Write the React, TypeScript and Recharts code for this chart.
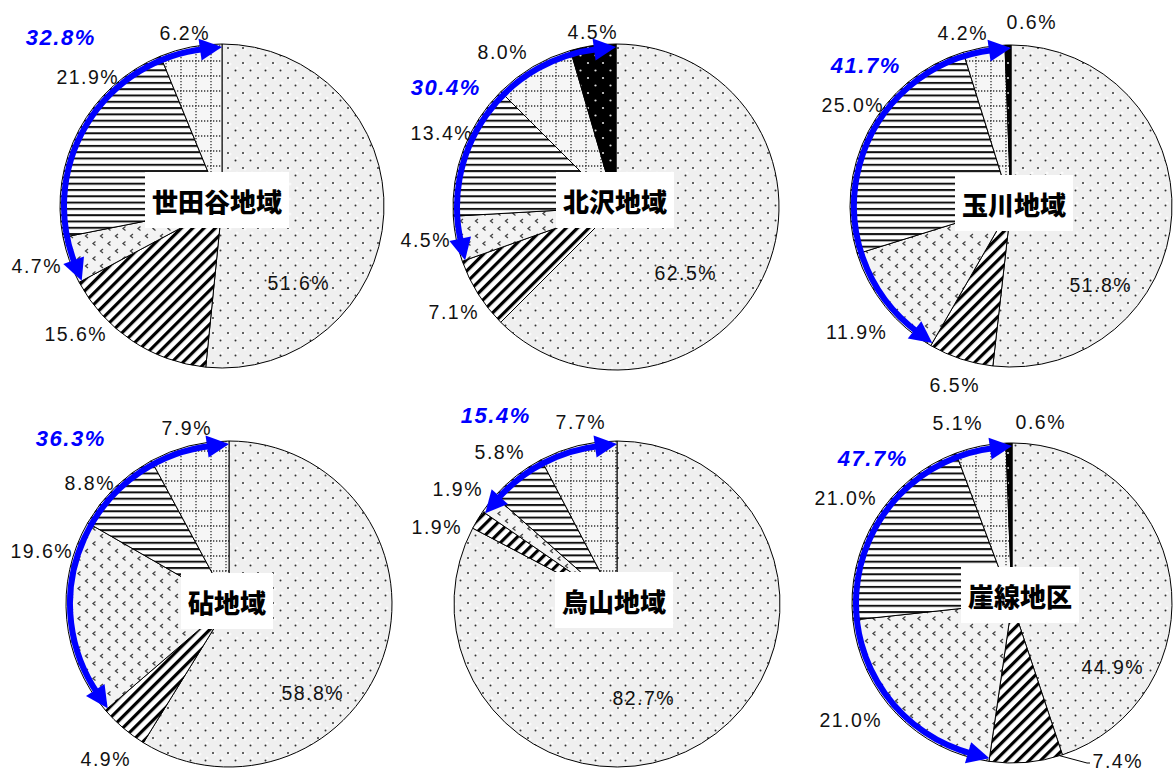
import React from 'react';
import { PieChart, Pie, Cell } from 'recharts';

// Districts, one pie each
const regionNames = ['世田谷地域', '北沢地域', '玉川地域', '砧地域', '烏山地域', '崖線地区'];

// Share (%) per category, clockwise from 12 o'clock:
// [dots, hatch, chevron, horizontal lines, grid, black]
const setagaya = [51.6, 15.6, 4.7, 21.9, 6.2, 0];
const kitazawa = [62.5, 7.1, 4.5, 13.4, 8.0, 4.5];
const tamagawa = [51.8, 6.5, 11.9, 25.0, 4.2, 0.6];
const kinuta = [58.8, 4.9, 19.6, 8.8, 7.9, 0];
const karasuyama = [82.7, 1.9, 1.9, 5.8, 7.7, 0];
const gaisen = [44.9, 7.4, 21.0, 21.0, 5.1, 0.6];

// Total of the categories spanned by the blue bracket arrow
const bracketTotals = [32.8, 30.4, 41.7, 36.3, 15.4, 47.7];

const shares = [setagaya, kitazawa, tamagawa, kinuta, karasuyama, gaisen];
const fillIds = ['fDots', 'fHatch', 'fChevron', 'fHLines', 'fGrid', 'fBlack'];

type Layout = {
  cx: number;
  cy: number;
  r: number;
  nameAt: [number, number];
  totalAt: [number, number];
  labelAt: ([number, number] | null)[];
  leaderFor?: number;
};

// Pie placement and label offsets (relative to each pie centre)
const layouts: Layout[] = [
  { cx: 222, cy: 206, r: 162, nameAt: [-5, -6], totalAt: [-162, -169],
    labelAt: [[76, 77], [-147, 128], [-186, 60], [-135, -129], [-38, -173], null] },
  { cx: 616, cy: 207, r: 163, nameAt: [-1, -7], totalAt: [-171, -120],
    labelAt: [[69, 66], [-163, 105], [-191, 33], [-175, -74], [-114, -155], [-24, -175]] },
  { cx: 1011, cy: 206, r: 161, nameAt: [3, -3], totalAt: [-146, -141],
    labelAt: [[89, 79], [-57, 179], [-155, 126], [-159, -101], [-49, -173], [20, -184]] },
  { cx: 229, cy: 604, r: 163, nameAt: [-2, -3], totalAt: [-159, -166],
    labelAt: [[83, 89], [-124, 155], [-188, -53], [-140, -121], [-43, -176], null] },
  { cx: 617, cy: 604, r: 163, nameAt: [-3, -4], totalAt: [-122, -189],
    labelAt: [[26, 94], [-181, -77], [-160, -115], [-118, -152], [-37, -182], null] },
  { cx: 1012, cy: 603, r: 160, nameAt: [8, -8], totalAt: [-140, -145],
    labelAt: [[100, 64], [105, 158], [-162, 117], [-167, -105], [-55, -180], [28, -181]], leaderFor: 1 },
];

const RAD = Math.PI / 180;
const polar = (cx: number, cy: number, rr: number, a: number): [number, number] => [
  cx + rr * Math.cos(-a * RAD),
  cy + rr * Math.sin(-a * RAD),
];

const LABEL_FONT = '"Liberation Sans", Arial, sans-serif';
const BLUE = '#0000ff';

function percentLabel(li: number) {
  return (p: any) => {
    const lay = layouts[li];
    const cat = p.payload?.cat ?? p.cat;
    const off = lay.labelAt[cat];
    if (!off) return <g key={`pl-${li}-${cat}`} />;
    const x = p.cx + off[0];
    const y = p.cy + off[1];
    let leader = null;
    if (lay.leaderFor === cat) {
      const [ex, ey] = polar(p.cx, p.cy, p.outerRadius, p.startAngle - 1);
      leader = (
        <path d={`M${ex},${ey} L${x - 30},${y + 2} L${x - 27},${y + 2}`} stroke="#000" strokeWidth={1} fill="none" />
      );
    }
    return (
      <g key={`pl-${li}-${cat}`}>
        {leader}
        <text
          x={x + 0.8}
          y={y}
          textAnchor="middle"
          dominantBaseline="central"
          fontFamily={LABEL_FONT}
          fontSize={19.5}
          fill="#111"
          style={{ letterSpacing: 1.5 }}
        >
          {`${Number(p.value).toFixed(1)}%`}
        </text>
      </g>
    );
  };
}

// Index 0 of the bracket pie carries the district name box, index 1 the blue double arrow
function bracketLabel(li: number) {
  return (p: any) => {
    const lay = layouts[li];
    const cx = p.cx;
    const cy = p.cy;
    if (p.index === 0) {
      const name = regionNames[li];
      const w = name.length * 26 + 14;
      const h = 56;
      const nx = cx + lay.nameAt[0];
      const ny = cy + lay.nameAt[1];
      return (
        <g key={`nm-${li}`}>
          <rect x={nx - w / 2} y={ny - h / 2} width={w} height={h} fill="#fff" />
          <text
            x={nx}
            y={ny}
            textAnchor="middle"
            dominantBaseline="central"
            fontFamily='"Noto Sans CJK JP", sans-serif'
            fontWeight={900}
            fontSize={26}
            fill="#000"
          >
            {name}
          </text>
        </g>
      );
    }
    const R = p.outerRadius - 4;
    const L = 22;
    const W = 11;
    const dA = L / R / RAD;
    const a0 = p.startAngle; // lower end of the bracket
    const a1 = p.endAngle; // 12 o'clock
    const s0 = a0 - dA * 0.8;
    const s1 = a1 + dA * 0.8;
    const [x0, y0] = polar(cx, cy, R, s0);
    const [x1, y1] = polar(cx, cy, R, s1);
    const large = s0 - s1 > 180 ? 1 : 0;
    const tipTop = polar(cx, cy, R + 1, a1);
    const bt1 = polar(cx, cy, R - W, a1 + dA);
    const bt2 = polar(cx, cy, R + W, a1 + dA);
    const tipBot = polar(cx, cy, R + 1, a0);
    const bb1 = polar(cx, cy, R - W, a0 - dA);
    const bb2 = polar(cx, cy, R + W, a0 - dA);
    const tx = cx + lay.totalAt[0];
    const ty = cy + lay.totalAt[1];
    return (
      <g key={`br-${li}`}>
        <path d={`M${x0},${y0} A${R},${R} 0 ${large} 1 ${x1},${y1}`} stroke={BLUE} strokeWidth={6} fill="none" />
        <path d={`M${tipTop[0]},${tipTop[1]} L${bt1[0]},${bt1[1]} L${bt2[0]},${bt2[1]} Z`} fill={BLUE} />
        <path d={`M${tipBot[0]},${tipBot[1]} L${bb1[0]},${bb1[1]} L${bb2[0]},${bb2[1]} Z`} fill={BLUE} />
        <text
          x={tx + 0.8}
          y={ty}
          textAnchor="middle"
          dominantBaseline="central"
          fontFamily={LABEL_FONT}
          fontSize={22}
          fontWeight={700}
          fontStyle="italic"
          fill={BLUE}
          style={{ letterSpacing: 1.5 }}
        >
          {`${bracketTotals[li].toFixed(1)}%`}
        </text>
      </g>
    );
  };
}

function Patterns() {
  return (
    <svg width={0} height={0} style={{ position: 'absolute' }}>
      <defs>
        <pattern id="fDots" width={15} height={15} patternUnits="userSpaceOnUse">
          <rect width={15} height={15} fill="#efefef" />
          <circle cx={5} cy={4} r={1.6} fill="#fafafa" />
          <circle cx={12} cy={8} r={1.6} fill="#fafafa" />
          <circle cx={3} cy={3} r={1} fill="#333" />
          <circle cx={10.5} cy={10.5} r={1} fill="#333" />
        </pattern>
        <pattern id="fHatch" width={8} height={8} patternUnits="userSpaceOnUse" patternTransform="rotate(45)">
          <rect width={8} height={8} fill="#fff" />
          <rect x={0} width={3.2} height={8} fill="#000" />
        </pattern>
        <pattern id="fChevron" width={15} height={15} patternUnits="userSpaceOnUse">
          <rect width={15} height={15} fill="#f3f3f3" />
          <path d="M5.5,1.5 L3,3.5 L5.5,5.5" stroke="#444" strokeWidth={1.3} fill="none" />
          <path d="M13,9 L10.5,11 L13,13" stroke="#444" strokeWidth={1.3} fill="none" />
        </pattern>
        <pattern id="fHLines" width={6} height={6.3} patternUnits="userSpaceOnUse">
          <rect width={6} height={6.3} fill="#fff" />
          <rect y={0} width={6} height={2} fill="#111" />
        </pattern>
        <pattern id="fGrid" width={15} height={15} patternUnits="userSpaceOnUse">
          <rect width={15} height={15} fill="#f6f6f6" />
          <line x1={0} y1={1} x2={15} y2={1} stroke="#333" strokeWidth={1.3} strokeDasharray="1.3 1.7" />
          <line x1={1} y1={0} x2={1} y2={15} stroke="#333" strokeWidth={1.3} strokeDasharray="1.3 1.7" />
        </pattern>
        <pattern id="fBlack" width={15} height={15} patternUnits="userSpaceOnUse">
          <rect width={15} height={15} fill="#000" />
          <circle cx={3} cy={3} r={1.1} fill="#ddd" />
          <circle cx={10.5} cy={10.5} r={1.1} fill="#ddd" />
        </pattern>
      </defs>
    </svg>
  );
}

export default function App() {
  return (
    <div style={{ position: 'absolute', left: 0, top: 0, width: 1176, height: 771, background: '#fff' }}>
      <Patterns />
      <PieChart width={1176} height={771} margin={{ top: 0, right: 0, bottom: 0, left: 0 }}>
        {layouts.map((lay, li) => {
          const data = shares[li]
            .map((v, k) => ({ cat: k, name: `c${k}`, value: v }))
            .filter((d) => d.value > 0);
          return (
            <Pie
              key={`main-${li}`}
              data={data}
              dataKey="value"
              cx={lay.cx}
              cy={lay.cy}
              outerRadius={lay.r}
              innerRadius={0}
              startAngle={90}
              endAngle={-270}
              stroke="#000"
              strokeWidth={1}
              isAnimationActive={false}
              labelLine={false}
              label={percentLabel(li)}
            >
              {data.map((d) => (
                <Cell key={`c-${li}-${d.cat}`} fill={`url(#${fillIds[d.cat]})`} />
              ))}
            </Pie>
          );
        })}
        {layouts.map((lay, li) => {
          const data = [
            { name: 'rest', value: 100 - bracketTotals[li] },
            { name: 'bracket', value: bracketTotals[li] },
          ];
          return (
            <Pie
              key={`bracket-${li}`}
              data={data}
              dataKey="value"
              cx={lay.cx}
              cy={lay.cy}
              outerRadius={lay.r}
              innerRadius={lay.r - 1}
              startAngle={90}
              endAngle={-270}
              stroke="none"
              fill="none"
              isAnimationActive={false}
              labelLine={false}
              label={bracketLabel(li)}
            >
              {data.map((d, k) => (
                <Cell key={`b-${li}-${k}`} fill="none" stroke="none" />
              ))}
            </Pie>
          );
        })}
      </PieChart>
    </div>
  );
}
